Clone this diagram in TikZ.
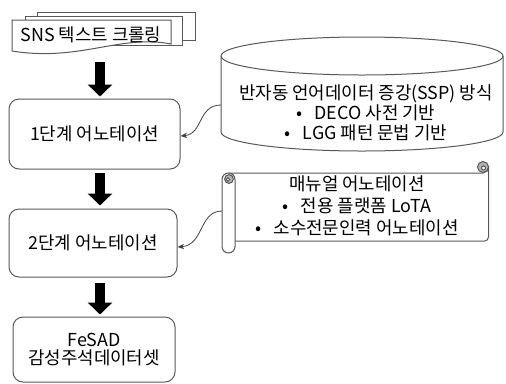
\documentclass[tikz,border=0pt]{standalone}
\usepackage{fontspec}
\setmainfont{Noto Sans CJK KR}
\usetikzlibrary{arrows.meta}
\begin{document}
\begin{tikzpicture}[x=0.75pt,y=-0.75pt,
  font=\fontsize{13.4}{15}\selectfont,
  shp/.style={draw=black!65, line width=0.75pt},
  box/.style={shp, rounded corners=7.5pt, fill=white, align=center},
  bigarrow/.style={line width=7pt, black, -{Triangle[width=18pt,length=9pt]}},
  link/.style={draw=black!75, line width=0.6pt, -{Stealth[length=5pt,width=4pt]}},
  lbl/.style={align=center, inner sep=0pt}]
\useasboundingbox (0,0) rectangle (506,383);

% document stack
\draw[shp, fill=white] (37,12) rectangle (195,40);
\draw[shp, fill=white] (25,16) rectangle (182,45);
\draw[shp, fill=white] (12,20) -- (171,20) -- (171,44)
  .. controls (120,34) and (80,62) .. (12,51) -- cycle;
\node[lbl] (doc) at (91,35) {SNS 텍스트 크롤링};

% boxes
\node[box, minimum width=128.25pt, minimum height=52.5pt] (b1) at (94.5,134) {1단계 어노테이션};
\node[box, minimum width=126pt, minimum height=51pt] (b2) at (93,243) {2단계 어노테이션};
\node[box, minimum width=121.5pt, minimum height=48.75pt, font=\fontsize{13.4}{13.5}\selectfont] (b3) at (94,349.5) {FeSAD\\감성주석데이터셋};

% block arrows
\coordinate (ax) at (100,0);
\coordinate (d0) at (100,62);
\draw[bigarrow, shorten >=1.5pt] (d0) -- (b1.north -| ax);
\draw[bigarrow, shorten <=2.25pt, shorten >=2.25pt] (b1.south -| ax) -- (b2.north -| ax);
\draw[bigarrow, shorten <=3.75pt, shorten >=1.5pt] (b2.south -| ax) -- (b3.north -| ax);

% cylinder
\draw[shp, fill=white] (221,56) -- (221,132)
  arc[start angle=180, end angle=360, x radius=105.75pt, y radius=14.25pt]
  -- (503,56)
  arc[start angle=0, end angle=180, x radius=105.75pt, y radius=14.25pt] -- cycle;
\draw[shp] (221,56) arc[start angle=180, end angle=360, x radius=105.75pt, y radius=14.25pt];
\node[lbl] (cyl) at (366,113) {반자동 언어데이터 증강(SSP) 방식\\•\hspace{9pt}DECO 사전 기반\\•\hspace{9pt}LGG 패턴 문법 기반};
\coordinate (cylL) at (221,105);

% scroll
\draw[shp, fill=white] (229,173) -- (483,173)
  arc[start angle=270, end angle=360, radius=4.125pt]
  -- (488.5,237) arc[start angle=0, end angle=-90, radius=3pt]
  -- (235,241) -- (229,241) -- cycle;
\draw[shp, fill=black!30] (483,167) circle[radius=4.125pt];
\draw[shp, fill=white] (483.5,168) circle[radius=1.5pt];
\draw[shp, fill=white, rounded corners=4.875pt] (222,173) rectangle (235,253);
\draw[shp, fill=black!30] (229,179) circle[radius=3.3pt];
\draw[shp, fill=white] (228,179.5) circle[radius=1.3pt];
\node[lbl, font=\fontsize{13.4}{16.5}\selectfont] (scr) at (357,206) {매뉴얼 어노테이션\\•\hspace{9pt}전용 플랫폼 LoTA\\•\hspace{9pt}소수전문인력 어노테이션};
\coordinate (scrL) at (222,211);

% connectors
\draw[link] (cylL) .. controls (198,105) and (203,134) .. ([yshift=-1.5pt]b1.east);
\draw[link] (scrL) .. controls (199,211) and (204,245) .. ([yshift=-3pt]b2.east);
\end{tikzpicture}
\end{document}
